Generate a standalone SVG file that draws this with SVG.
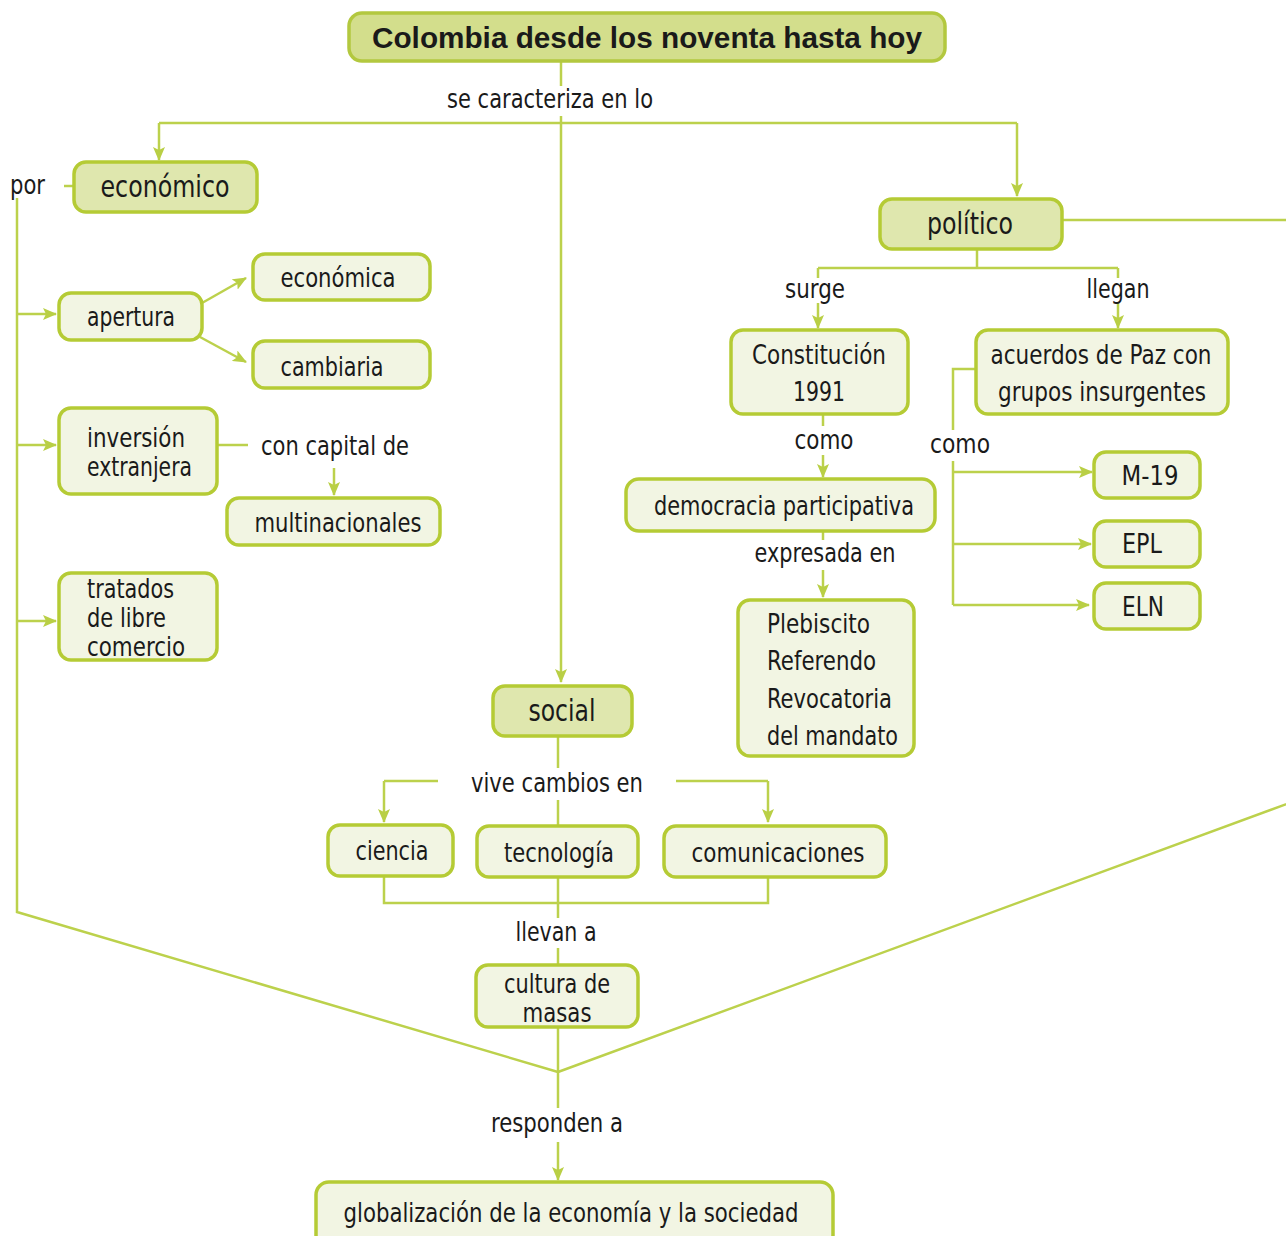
<svg xmlns="http://www.w3.org/2000/svg" width="1286" height="1236" viewBox="0 0 1286 1236">
<defs>
<marker id="ah" markerUnits="userSpaceOnUse" markerWidth="14" markerHeight="12" refX="13" refY="6" orient="auto">
<path d="M0,0 L14,6 L0,12 L3,6 Z" fill="#b9cf45"/>
</marker>
<style>
.c{fill:none;stroke:#bcd14c;stroke-width:2.5}
.a{fill:none;stroke:#bcd14c;stroke-width:2.5;marker-end:url(#ah)}
.n rect{fill:#f2f5e3;stroke:#b5cb35;stroke-width:3.5}
.m rect{fill:#dfe7ae;stroke:#b5cb35;stroke-width:3.5}
text{font-family:"Liberation Sans Narrow","DejaVu Sans Condensed","Liberation Sans",sans-serif;font-stretch:condensed;font-size:27px;fill:#1a1a1a}
.t{text-anchor:middle}
.big{font-size:30px}
.ttl{font-family:"Liberation Sans",Arial,sans-serif;font-stretch:normal;font-weight:bold;font-size:29px;text-anchor:middle}
</style>
</defs>
<rect width="1286" height="1236" fill="#ffffff"/>

<g id="connectors">
<path class="c" d="M561,62 V86"/>
<path class="c" d="M561,116 V123"/>
<path class="a" d="M561,123 V682"/>
<path class="c" d="M159,123 H1017"/>
<path class="a" d="M159,123 V160"/>
<path class="a" d="M1017,123 V196"/>
<path class="c" d="M64,186 H74"/>
<path class="c" d="M17,198 V912 L558,1072"/>
<path class="a" d="M17,314 H56"/>
<path class="a" d="M17,445 H56"/>
<path class="a" d="M17,621 H56"/>
<path class="a" d="M202,303 L246,278"/>
<path class="a" d="M200,337 L246,362"/>
<path class="c" d="M217,445 H248"/>
<path class="a" d="M334,468 V495"/>
<path class="c" d="M1062,220 H1292 V802 L558,1072"/>
<path class="c" d="M977,249 V268 M818,268 H1118 M818,268 V278 M1118,268 V278"/>
<path class="a" d="M818,303 V328"/>
<path class="a" d="M1118,303 V328"/>
<path class="c" d="M823,414 V426"/>
<path class="a" d="M823,455 V477"/>
<path class="c" d="M823,531 V540"/>
<path class="a" d="M823,570 V597"/>
<path class="c" d="M976,369 H953 V430"/>
<path class="c" d="M953,461 V605"/>
<path class="a" d="M953,472 H1092"/>
<path class="a" d="M953,544 H1091"/>
<path class="a" d="M953,605 H1089"/>
<path class="c" d="M558,736 V768"/>
<path class="c" d="M558,800 V826"/>
<path class="c" d="M438,781 H384"/>
<path class="a" d="M384,781 V822"/>
<path class="c" d="M676,781 H768"/>
<path class="a" d="M768,781 V822"/>
<path class="c" d="M384,876 V903 H768 V877 M558,877 V918"/>
<path class="c" d="M558,948 V965"/>
<path class="c" d="M558,1027 V1108"/>
<path class="a" d="M558,1142 V1180"/>
</g>

<g id="title" class="m"><rect x="349" y="13" width="596" height="48" rx="13" style="fill:#d3de8c;stroke:#b3c83f"/><text class="ttl" x="647" y="48" textLength="550" lengthAdjust="spacingAndGlyphs">Colombia desde los noventa hasta hoy</text></g>
<text class="t" x="550" y="108" textLength="206" lengthAdjust="spacingAndGlyphs">se caracteriza en lo</text>

<g id="economico" class="m"><rect x="74" y="162" width="183" height="50" rx="12"/><text class="t big" x="165" y="197" textLength="129" lengthAdjust="spacingAndGlyphs">económico</text></g>
<text x="10" y="194" textLength="35" lengthAdjust="spacingAndGlyphs">por</text>
<g id="apertura" class="n"><rect x="59" y="293" width="143" height="47" rx="12"/><text class="t" x="131" y="326" textLength="88" lengthAdjust="spacingAndGlyphs">apertura</text></g>
<g id="economica" class="n"><rect x="253" y="254" width="177" height="46" rx="12"/><text class="t" x="338" y="287" textLength="115" lengthAdjust="spacingAndGlyphs">económica</text></g>
<g id="cambiaria" class="n"><rect x="253" y="341" width="177" height="47" rx="12"/><text class="t" x="332" y="376" textLength="103" lengthAdjust="spacingAndGlyphs">cambiaria</text></g>
<g id="inversion" class="n"><rect x="59" y="408" width="158" height="86" rx="12"/><text x="87" y="447" textLength="98" lengthAdjust="spacingAndGlyphs">inversión</text><text x="87" y="476" textLength="105" lengthAdjust="spacingAndGlyphs">extranjera</text></g>
<text class="t" x="335" y="455" textLength="148" lengthAdjust="spacingAndGlyphs">con capital de</text>
<g id="multinacionales" class="n"><rect x="227" y="498" width="213" height="47" rx="12"/><text class="t" x="338" y="532" textLength="167" lengthAdjust="spacingAndGlyphs">multinacionales</text></g>
<g id="tratados" class="n"><rect x="59" y="573" width="158" height="87" rx="12"/><text x="87" y="598" textLength="87" lengthAdjust="spacingAndGlyphs">tratados</text><text x="87" y="627" textLength="79" lengthAdjust="spacingAndGlyphs">de libre</text><text x="87" y="656" textLength="98" lengthAdjust="spacingAndGlyphs">comercio</text></g>

<g id="politico" class="m"><rect x="880" y="199" width="182" height="50" rx="12"/><text class="t big" x="970" y="234" textLength="86" lengthAdjust="spacingAndGlyphs">político</text></g>
<text class="t" x="815" y="298" textLength="60" lengthAdjust="spacingAndGlyphs">surge</text>
<text class="t" x="1118" y="298" textLength="63" lengthAdjust="spacingAndGlyphs">llegan</text>
<g id="constitucion" class="n"><rect x="731" y="330" width="177" height="84" rx="12"/><text class="t" x="819" y="364" textLength="134" lengthAdjust="spacingAndGlyphs">Constitución</text><text class="t" x="819" y="401" textLength="52" lengthAdjust="spacingAndGlyphs">1991</text></g>
<g id="acuerdos" class="n"><rect x="976" y="330" width="252" height="84" rx="12"/><text class="t" x="1101" y="364" textLength="221" lengthAdjust="spacingAndGlyphs">acuerdos de Paz con</text><text class="t" x="1102" y="401" textLength="208" lengthAdjust="spacingAndGlyphs">grupos insurgentes</text></g>
<text class="t" x="824" y="449" textLength="59" lengthAdjust="spacingAndGlyphs">como</text>
<text class="t" x="960" y="453" textLength="60" lengthAdjust="spacingAndGlyphs">como</text>
<g id="democracia" class="n"><rect x="626" y="479" width="309" height="52" rx="13"/><text class="t" x="784" y="515" textLength="260" lengthAdjust="spacingAndGlyphs">democracia participativa</text></g>
<text class="t" x="825" y="562" textLength="141" lengthAdjust="spacingAndGlyphs">expresada en</text>
<g id="plebiscito" class="n"><rect x="738" y="600" width="176" height="156" rx="12"/><text x="767" y="633" textLength="103" lengthAdjust="spacingAndGlyphs">Plebiscito</text><text x="767" y="670" textLength="109" lengthAdjust="spacingAndGlyphs">Referendo</text><text x="767" y="708" textLength="125" lengthAdjust="spacingAndGlyphs">Revocatoria</text><text x="767" y="745" textLength="131" lengthAdjust="spacingAndGlyphs">del mandato</text></g>
<g id="m19" class="n"><rect x="1094" y="452" width="106" height="46" rx="12"/><text class="t" x="1150" y="485" textLength="57" lengthAdjust="spacingAndGlyphs">M-19</text></g>
<g id="epl" class="n"><rect x="1094" y="521" width="106" height="46" rx="12"/><text class="t" x="1142" y="553" textLength="40" lengthAdjust="spacingAndGlyphs">EPL</text></g>
<g id="eln" class="n"><rect x="1094" y="583" width="106" height="46" rx="12"/><text class="t" x="1143" y="616" textLength="42" lengthAdjust="spacingAndGlyphs">ELN</text></g>

<g id="social" class="m"><rect x="493" y="686" width="139" height="50" rx="12"/><text class="t big" x="562" y="721" textLength="67" lengthAdjust="spacingAndGlyphs">social</text></g>
<text class="t" x="557" y="792" textLength="172" lengthAdjust="spacingAndGlyphs">vive cambios en</text>
<g id="ciencia" class="n"><rect x="328" y="825" width="125" height="51" rx="12"/><text class="t" x="392" y="860" textLength="73" lengthAdjust="spacingAndGlyphs">ciencia</text></g>
<g id="tecnologia" class="n"><rect x="477" y="826" width="161" height="51" rx="12"/><text class="t" x="559" y="862" textLength="110" lengthAdjust="spacingAndGlyphs">tecnología</text></g>
<g id="comunicaciones" class="n"><rect x="664" y="826" width="222" height="51" rx="12"/><text class="t" x="778" y="862" textLength="173" lengthAdjust="spacingAndGlyphs">comunicaciones</text></g>
<text class="t" x="556" y="941" textLength="81" lengthAdjust="spacingAndGlyphs">llevan a</text>
<g id="cultura" class="n"><rect x="476" y="965" width="162" height="62" rx="12"/><text class="t" x="557" y="993" textLength="106" lengthAdjust="spacingAndGlyphs">cultura de</text><text class="t" x="557" y="1022" textLength="69" lengthAdjust="spacingAndGlyphs">masas</text></g>
<text class="t" x="557" y="1132" textLength="132" lengthAdjust="spacingAndGlyphs">responden a</text>
<g id="globalizacion" class="n"><rect x="316" y="1182" width="517" height="66" rx="13"/><text class="t" x="571" y="1222" textLength="455" lengthAdjust="spacingAndGlyphs">globalización de la economía y la sociedad</text></g>
</svg>
